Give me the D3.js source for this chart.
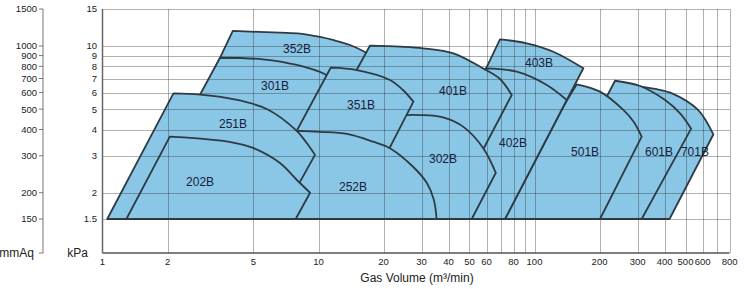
<!DOCTYPE html>
<html><head><meta charset="utf-8">
<script src="https://cdn.jsdelivr.net/npm/d3@7"></script>
<style>
html,body{margin:0;padding:0;background:#fff;}
svg{display:block;font-family:"Liberation Sans",Arial,sans-serif;}
</style></head>
<body>
<svg id="c" width="744" height="289"></svg>
<script>
// ---- data ----
const models = ["701B","601B","501B","403B","402B","352B","401B","301B","302B","351B","252B","251B","202B"];
// gas volume (m3/min) where each envelope meets the 1.5 kPa base line
const baseFrom = [125.8,108.3,65.6,27.7,25.6,1.55,6.29,1.38,12.58,4.78,4.87,1.052,1.29];
const baseTo   = [421.7,313.4,201,73.0,73.0,8.09,39.2,6.81,51.2,14.46,35.2,6.59,7.84];
// top curves [gas volume m3/min, pressure kPa]
const topCurves = [
  [[271,6.55],[361,6.24],[433.1,5.95],[571.3,4.96],[672.6,3.79]],
  [[236,6.83],[307.9,6.45],[402,5.53],[471.8,4.78],[531,4.04]],
  [[156.8,6.57],[201,6.06],[257.6,4.96],[287.7,4.36],[313.4,3.70]],
  [[69.2,10.76],[92.0,10.30],[122.2,9.39],[168.3,7.83]],
  [[59.6,7.83],[82.7,7.54],[113.9,6.52],[141.0,5.53]],
  [[4.01,11.79],[6.63,11.57],[8.21,11.45],[10.16,11.04],[11.67,10.68],[13.99,10.11],[16.4,9.36],[19.27,8.39]],
  [[17.3,10.03],[23.8,9.92],[30.5,9.75],[42.1,9.23],[58.0,7.8],[69.2,6.96],[78.4,5.84]],
  [[3.50,8.79],[5.53,8.64],[7.93,8.12],[10.72,7.33],[12.3,6.59],[13.55,5.71]],
  [[25.2,4.69],[29.5,4.69],[37.7,4.57],[46.7,4.13],[57.8,3.27],[66.2,2.49]],
  [[11.39,7.88],[15.03,7.68],[21.4,6.89],[24.6,6.17],[27.5,5.43]],
  [[7.95,3.94],[10.16,3.90],[13.55,3.81],[17.88,3.50],[21.4,3.26],[27.4,2.66],[31.8,2.22],[34.2,1.85],[35.2,1.5]],
  [[2.13,5.95],[2.83,5.87],[4.02,5.59],[5.76,5.01],[7.93,3.94],[8.82,3.45],[9.63,3.03]],
  [[2.05,3.70],[2.83,3.62],[4.02,3.47],[4.98,3.27],[6.63,2.77],[7.94,2.30],[9.14,2.00]]
];
const labelAt = [[553,3.13],[377,3.13],[171.4,3.13],[104.9,8.30],[79.5,3.45],[7.95,9.68],[41.95,6.10],[6.29,6.45],[37.7,2.90],[15.73,5.24],[14.44,2.13],[4.02,4.25],[2.83,2.25]];
const basePressure = 1.5;
const kpaTicks = [15,10,9,8,7,6,5,4,3,2,1.5];
const mmaqTicks = [1500,1000,900,800,700,600,500,400,300,200,150];
const xGrid = [2,5,10,20,30,40,50,60,70,80,90,100,200,300,400,500,600,700,800];
const xTickLabels = [1,2,5,10,20,30,40,50,60,80,100,200,300,400,500,600,800];

// ---- layout ----
const svg = d3.select("#c");
const x = d3.scaleLog().domain([1,800]).range([102.5,729.6]);
const y = d3.scaleLog().domain([1.5,15]).range([219,9]);
const yTop = 9, yBot = 253;
const mmAxisX = 43;

// shapes
const line = d3.line().x(d=>x(d[0])).y(d=>y(d[1])).curve(d3.curveCatmullRom.alpha(0.5));
const gShapes = svg.append("g");
models.forEach((m,i)=>{
  const top = line(topCurves[i]);
  const d = `M${x(baseFrom[i])},${y(basePressure)}L` + top.slice(1) + `L${x(baseTo[i])},${y(basePressure)}Z`;
  gShapes.append("path").attr("d",d)
    .attr("fill","#8ac7e6").attr("stroke","#2e3b44").attr("stroke-width",1.8)
    .attr("stroke-linejoin","round");
});

// grid
const gGrid = svg.append("g").attr("stroke","#333").attr("stroke-opacity",0.38).attr("stroke-width",1).attr("shape-rendering","crispEdges");
kpaTicks.forEach(v=>{
  gGrid.append("line").attr("x1",x(1)).attr("x2",x(800)).attr("y1",Math.round(y(v))+0.5).attr("y2",Math.round(y(v))+0.5);
});
xGrid.forEach(v=>{
  gGrid.append("line").attr("x1",Math.round(x(v))+0.5).attr("x2",Math.round(x(v))+0.5).attr("y1",yTop).attr("y2",yBot);
});

// frame
svg.append("line").attr("x1",x(1)).attr("x2",x(1)).attr("y1",yTop).attr("y2",yBot).attr("stroke","#666").attr("stroke-width",1.5);
svg.append("line").attr("x1",x(1)).attr("x2",x(800)).attr("y1",yBot).attr("y2",yBot).attr("stroke","#555").attr("stroke-width",1.5);

// left kPa labels
const gk = svg.append("g").attr("font-size",9.5).attr("fill","#222").attr("text-anchor","end");
kpaTicks.forEach(v=>{
  gk.append("text").attr("x",97).attr("y",y(v)).attr("dy","0.35em").text(v);
});
svg.append("text").attr("x",88).attr("y",yBot).attr("dy","0.3em").attr("text-anchor","end").attr("font-size",12).attr("fill","#222").text("kPa");

// mmAq axis
svg.append("line").attr("x1",mmAxisX).attr("x2",mmAxisX).attr("y1",yTop).attr("y2",yBot).attr("stroke","#777").attr("stroke-width",1);
const gm = svg.append("g").attr("font-size",9.5).attr("fill","#222").attr("text-anchor","end");
mmaqTicks.forEach(v=>{
  const yy = y(v/100);
  svg.append("line").attr("x1",mmAxisX-4).attr("x2",mmAxisX).attr("y1",yy).attr("y2",yy).attr("stroke","#777");
  gm.append("text").attr("x",mmAxisX-6).attr("y",yy).attr("dy","0.35em").text(v);
});
svg.append("line").attr("x1",mmAxisX-4).attr("x2",mmAxisX).attr("y1",yBot).attr("y2",yBot).attr("stroke","#777");
svg.append("text").attr("x",34).attr("y",yBot).attr("dy","0.3em").attr("text-anchor","end").attr("font-size",12).attr("fill","#222").text("mmAq");

// x tick labels
const gx = svg.append("g").attr("font-size",9.5).attr("fill","#222").attr("text-anchor","middle");
xTickLabels.forEach(v=>{
  gx.append("text").attr("x",x(v)).attr("y",262).attr("dy","0.35em").text(v);
});
svg.append("text").attr("x",417).attr("y",278).attr("dy","0.35em").attr("text-anchor","middle").attr("font-size",12).attr("fill","#222").text("Gas Volume (m³/min)");

// model labels
const gl = svg.append("g").attr("font-size",12).attr("fill","#17203a").attr("text-anchor","middle");
models.forEach((m,i)=>{
  gl.append("text").attr("x",x(labelAt[i][0])).attr("y",y(labelAt[i][1])).attr("dy","0.35em").text(m);
});
</script>
</body></html>
